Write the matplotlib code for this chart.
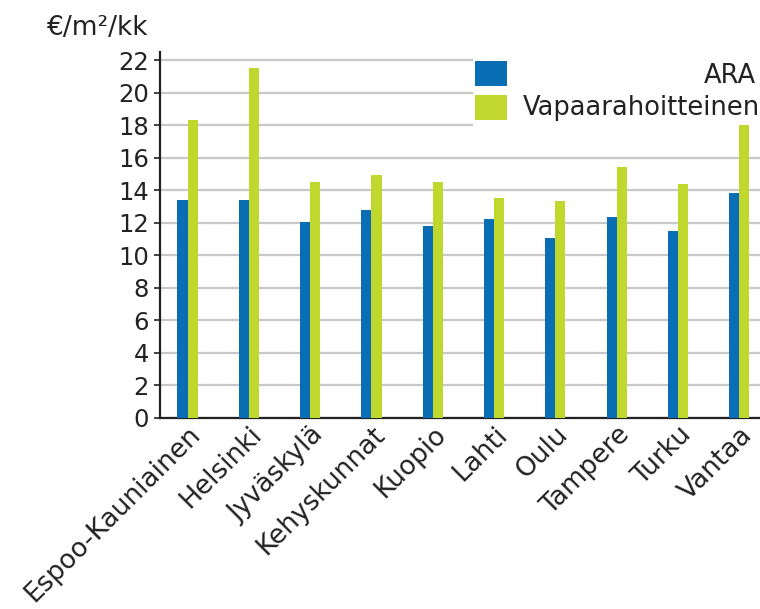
import matplotlib.pyplot as plt
import matplotlib.transforms as mtransforms
from matplotlib.patches import Rectangle
import numpy as np

# Kaupungit ja vuokrat (€/m²/kk)
kaupungit = ["Espoo-Kauniainen", "Helsinki", "Jyväskylä", "Kehyskunnat", "Kuopio",
             "Lahti", "Oulu", "Tampere", "Turku", "Vantaa"]
ara = [13.4, 13.4, 12.05, 12.8, 11.8, 12.2, 11.05, 12.35, 11.5, 13.8]
vapaarahoitteinen = [18.3, 21.5, 14.5, 14.95, 14.5, 13.5, 13.35, 15.4, 14.4, 18.0]
sarjat = ["ARA", "Vapaarahoitteinen"]

sininen = "#0a6eb4"
vihrea = "#c0d72d"
teksti = "#222222"

W, H = 760, 609
fig = plt.figure(figsize=(W / 100, H / 100), dpi=100)

# akseli pikseleinä: vasen 160, ala 417.5, yläreuna 22.5 kohdalla
left, bottom, top = 160, 417.5, 417.5 - 22.5 * 16.24
step = 61.3
x0 = -0.45
x1 = x0 + (W + 20 - left) / step
ax = fig.add_axes([left / W, 1 - bottom / H, (W + 20 - left) / W, (bottom - top) / H])

x = np.arange(len(kaupungit))
bw = 0.165
ax.bar(x - bw / 2, ara, bw, color=sininen, zorder=3)
ax.bar(x + bw / 2, vapaarahoitteinen, bw, color=vihrea, zorder=3)

ax.set_xlim(x0, x1)
ax.set_ylim(0, 22.5)
ax.set_yticks(range(0, 23, 2))
ax.yaxis.grid(True, color="#c8c8c8", linewidth=1.6, zorder=0)
ax.set_axisbelow(True)

for s in ["top", "right"]:
    ax.spines[s].set_visible(False)
for s in ["left", "bottom"]:
    ax.spines[s].set_linewidth(1.6)
    ax.spines[s].set_color(teksti)

ax.tick_params(axis="y", length=4, width=1.2, pad=4, labelsize=17.5, colors=teksti)
ax.tick_params(axis="x", length=0, pad=3)
ax.set_xticks(x)
ax.set_xticklabels(kaupungit, rotation=45, ha="right", va="top",
                   rotation_mode="anchor", fontsize=19, color=teksti)
offset = mtransforms.ScaledTranslation(0, 0, fig.dpi_scale_trans)
for lab in ax.get_xticklabels():
    lab.set_transform(lab.get_transform() + offset)

fig.text(148 / W, 1 - 35 / H, "€/m²/kk", ha="right", va="baseline",
         fontsize=19, color=teksti)

# selite: valkoinen laatikko oikeassa yläkulmassa (palkkien alla)
ax.add_patch(Rectangle((473 / W, 1 - 127 / H), (W - 473) / W, 77 / H,
                       transform=fig.transFigure, facecolor="white",
                       edgecolor="none", zorder=2, clip_on=False))
fig.add_artist(Rectangle((475 / W, 1 - 86 / H), 32 / W, 25 / H,
                         transform=fig.transFigure, facecolor=sininen, zorder=6))
fig.add_artist(Rectangle((475 / W, 1 - 120 / H), 32 / W, 25 / H,
                         transform=fig.transFigure, facecolor=vihrea, zorder=6))
fig.text(756 / W, 1 - 83 / H, sarjat[0], ha="right", va="baseline",
         fontsize=18.5, color=teksti, zorder=7)
fig.text(523 / W, 1 - 115 / H, sarjat[1], ha="left", va="baseline",
         fontsize=18.5, color=teksti, zorder=7)

fig.savefig("out.png", dpi=100)
